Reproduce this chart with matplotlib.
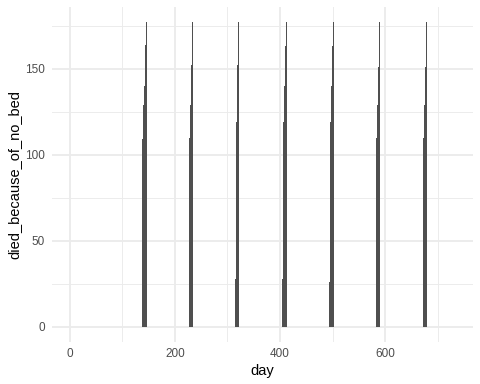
import matplotlib
matplotlib.use("Agg")
import matplotlib.pyplot as plt
from matplotlib.ticker import FixedLocator

plt.rcParams['font.family'] = ['Liberation Sans', 'DejaVu Sans']

# Data (days with deaths due to no bed; all other days are 0)
days = [137, 138, 139, 140, 141, 142, 143, 144, 145, 146,
        227, 228, 229, 230, 231, 232, 233,
        315, 316, 317, 318, 319, 320, 321, 322,
        404, 405, 406, 407, 408, 409, 410, 411, 412,
        494, 495, 496, 497, 498, 499, 500, 501, 502,
        583, 584, 585, 586, 587, 588, 589,
        673, 674, 675, 676, 677, 678, 679]
died = [109, 109, 129, 129, 140, 140, 164, 164, 177, 177,
        110, 110, 129, 129, 152, 152, 177,
        28, 119, 119, 129, 152, 152, 177, 177,
        28, 28, 119, 119, 140, 140, 163, 163, 177,
        26, 26, 119, 140, 140, 163, 163, 177, 177,
        110, 110, 129, 129, 151, 151, 177,
        110, 110, 129, 129, 151, 151, 177]

x_ticks = [0, 200, 400, 600]
y_ticks = [0, 50, 100, 150]

fig = plt.figure(figsize=(5, 4), dpi=96)
ax = fig.add_axes([51.5/480, 1 - 341.9/384, (472.7-51.5)/480, (341.9-7.1)/384])

ax.bar(days, died, width=1.0, color='#4f4f4f', linewidth=0, zorder=3)

ax.set_xlim(-35.2, 767)
ax.set_ylim(-8.85, 185.85)
ax.xaxis.set_major_locator(FixedLocator(x_ticks))
ax.xaxis.set_minor_locator(FixedLocator([100, 300, 500, 700]))
ax.yaxis.set_major_locator(FixedLocator(y_ticks))
ax.yaxis.set_minor_locator(FixedLocator([25, 75, 125, 175]))

ax.grid(which='major', color='#EBEBEB', linewidth=1.42, zorder=0)
ax.grid(which='minor', color='#EBEBEB', linewidth=0.71, zorder=0)
ax.set_axisbelow(True)
for s in ax.spines.values():
    s.set_visible(False)
ax.tick_params(which='both', length=0, pad=4.95, labelsize=8.8, labelcolor='#4D4D4D')

ax.set_xlabel('day', fontsize=11, color='black', labelpad=2.75)
ax.set_ylabel('died_because_of_no_bed', fontsize=11, color='black', labelpad=2.75)

fig.savefig('out.png', dpi=96, facecolor='white')
